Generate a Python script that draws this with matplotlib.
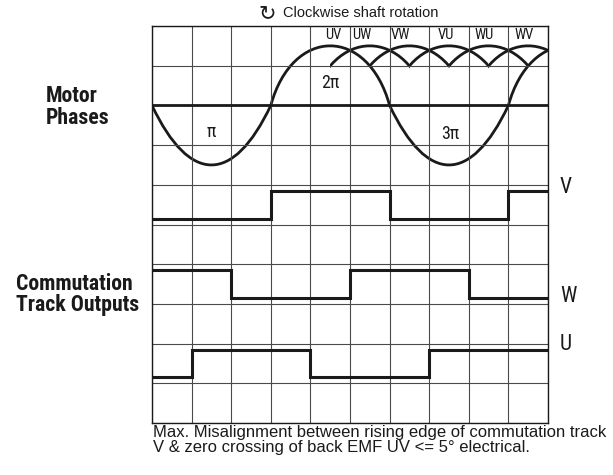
import matplotlib
matplotlib.use("Agg")
import matplotlib.pyplot as plt
from matplotlib.path import Path
from matplotlib.patches import PathPatch

plt.rcParams['font.family'] = ['Roboto Condensed', 'Archivo Narrow', 'DejaVu Sans']
note_font = ['Liberation Sans', 'DejaVu Sans']

##########################
# waveform data
##########################
# back EMF UV: zero crossings and the sign of each lobe between them
zero_crossings = [0, 3, 6, 9, 12]
lobe_signs = [-1, 1, -1, 1]
emf_amplitude = 1.5
emf_axis = 8

# rectified line-to-line EMF arcs (peak positions) and their labels
arc_peaks = [5.5, 6.5, 7.5, 8.5, 9.5]
arc_labels = ["UV", "UW", "VW", "VU", "WU", "WV"]

# commutation tracks: edge positions and logic state between edges
v_edges = [0, 3, 6, 9, 10]
v_states = [0, 1, 0, 1]
w_edges = [0, 2, 5, 8, 10]
w_states = [1, 0, 1, 0]
u_edges = [0, 1, 4, 7, 10]
u_states = [0, 1, 0, 1]
track_names = ["V", "W", "U"]

phase_labels = ["\u03c0", "2\u03c0", "3\u03c0"]

##########################
# layout / style
##########################
W, H = 613, 475
ink = "#1a1a1a"
grid_col = "#4a4a4a"
lobe_ctrl = {1: 0.55, -1: 0.95}   # bezier control offsets (fullness of lobes)
arc_half_span = 1.0
arc_label_x = [4.58, 5.3, 6.27, 7.42, 8.38, 9.4]
phase_label_xy = [(1.5, 7.33), (4.5, 8.56), (7.53, 7.28)]
track_rows = [5, 3, 1]
track_label_y = [5.92, 3.18, 1.97]


def lobe(x0, x1, sign):
    # one half wave as a cubic bezier from (x0, axis) to (x1, axis)
    a = lobe_ctrl[sign]
    h = emf_axis + sign * emf_amplitude / 0.75
    return [(x0 + a, h), (x1 - a, h), (x1, emf_axis)]


fig = plt.figure(figsize=(W / 100, H / 100), dpi=100)
ax = fig.add_axes([152 / W, 52 / H, 396 / W, 397 / H])
ax.set_xlim(0, 10)
ax.set_ylim(0, 10)
ax.set_xticks(range(11))
ax.set_yticks(range(11))
ax.tick_params(length=0, labelbottom=False, labelleft=False)
ax.grid(True, color=grid_col, lw=0.8)
for s in ax.spines.values():
    s.set_color(ink)
    s.set_linewidth(1.0)

# zero line of the motor phases
ax.axhline(emf_axis, color=ink, lw=2.0)

# back EMF UV
verts = [(zero_crossings[0], emf_axis)]
codes = [Path.MOVETO]
for x0, x1, sg in zip(zero_crossings[:-1], zero_crossings[1:], lobe_signs):
    verts += lobe(x0, x1, sg)
    codes += [Path.CURVE4] * 3
ax.add_patch(PathPatch(Path(verts, codes), fill=False, ec=ink, lw=2.0))

# rectified arcs: same lobe shape, only the part around the peak
for xp in arc_peaks:
    v = [(xp - 1.5, emf_axis)] + lobe(xp - 1.5, xp + 1.5, 1)
    p = PathPatch(Path(v, [Path.MOVETO] + [Path.CURVE4] * 3), fill=False, ec=ink, lw=2.0)
    ax.add_patch(p)
    left = xp - arc_half_span
    right = min(xp + arc_half_span, 10)
    clip = plt.Rectangle((left, emf_axis), right - left, 2.1, transform=ax.transData)
    p.set_clip_path(clip)

for lab, x in zip(arc_labels, arc_label_x):
    ax.text(x, 9.77, lab, ha="center", va="center", fontsize=10.5, color=ink)
for lab, (x, y) in zip(phase_labels, phase_label_xy):
    ax.text(x, y, lab, ha="center", va="center", fontsize=13, color=ink)

# commutation track outputs
for edges, states, row in zip([v_edges, w_edges, u_edges],
                              [v_states, w_states, u_states], track_rows):
    ys = [row + 0.15 + 0.7 * s for s in states]
    ax.step(edges, ys + [ys[-1]], where="post", color=ink, lw=2.2,
            solid_joinstyle="miter")
for name, y in zip(track_names, track_label_y):
    ax.text(10.3, y, name, ha="left", va="center", fontsize=15.5, color=ink,
            clip_on=False)

# side titles
fig.text(46 / W, 1 - 107 / H, "Motor\nPhases", ha="left", va="center",
         fontsize=15.7, fontweight="bold", color=ink, linespacing=0.98)
fig.text(16 / W, 1 - 294.5 / H, "Commutation\nTrack Outputs", ha="left", va="center",
         fontsize=15.7, fontweight="bold", color=ink, linespacing=0.98)

# rotation note above the chart
fig.text(267 / W, 1 - 13 / H, "\u21bb", ha="center", va="center", fontsize=15,
         color=ink, family="DejaVu Sans")
fig.text(283 / W, 1 - 13 / H, "Clockwise shaft rotation", ha="left", va="center",
         fontsize=10.5, color=ink, family=note_font)

fig.text(153 / W, 1 - 433 / H,
         "Max. Misalignment between rising edge of commutation track",
         ha="left", va="center", fontsize=12, color=ink, family=note_font)
fig.text(153 / W, 1 - 447.5 / H,
         "V & zero crossing of back EMF UV <= 5\u00b0 electrical.",
         ha="left", va="center", fontsize=12, color=ink, family=note_font)

fig.savefig("out.png", dpi=100)
